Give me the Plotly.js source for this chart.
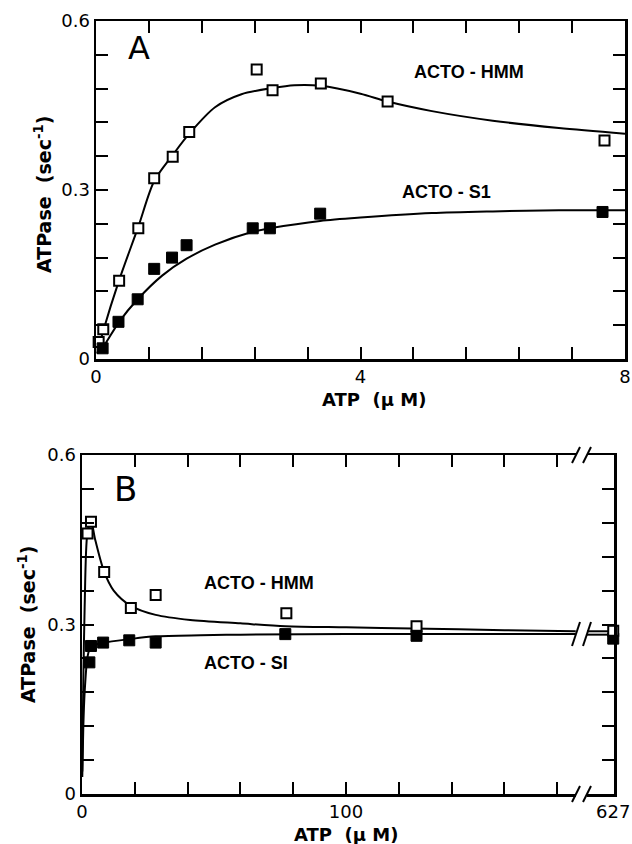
<!DOCTYPE html>
<html>
<head>
<meta charset="utf-8">
<script src="https://cdn.plot.ly/plotly-3.0.1.min.js"></script>
<style>html,body{margin:0;padding:0;background:#fff;}#chart{width:632px;height:844px;}</style>
</head>
<body>
<div id="chart"></div>
<script>
// ---------- Panel A data (ATP 0-8 µM) ----------
const hmmA_x = [0.04, 0.11, 0.35, 0.64, 0.88, 1.16, 1.41, 2.43, 2.67, 3.40, 4.41, 7.69];
const hmmA_y = [0.03, 0.053, 0.139, 0.232, 0.321, 0.359, 0.403, 0.514, 0.477, 0.489, 0.457, 0.388];
const s1A_x = [0.10, 0.34, 0.63, 0.88, 1.15, 1.37, 2.37, 2.63, 3.39, 7.66];
const s1A_y = [0.019, 0.066, 0.106, 0.160, 0.180, 0.202, 0.232, 0.232, 0.258, 0.261];
const hmmFitA_x = [0.02, 0.11, 0.35, 0.64, 0.88, 1.16, 1.41, 1.8, 2.2, 2.67, 3.0, 3.4, 4.0, 4.41, 5.08, 6.0, 7.0, 8.0];
const hmmFitA_y = [0.01, 0.05, 0.14, 0.235, 0.316, 0.362, 0.40, 0.447, 0.47, 0.481, 0.486, 0.485, 0.471, 0.457, 0.44, 0.423, 0.41, 0.40];
const s1FitA_x = [0.02, 0.1, 0.35, 0.63, 1.0, 1.37, 1.8, 2.37, 2.63, 3.39, 4.0, 5.08, 6, 7, 8];
const s1FitA_y = [0.01, 0.02, 0.066, 0.106, 0.148, 0.178, 0.203, 0.226, 0.232, 0.245, 0.251, 0.259, 0.262, 0.264, 0.264];

// ---------- Panel B data (ATP 0-627 µM, broken axis) ----------
const hmmB_x = [2.1, 3.4, 8.4, 18.5, 27.9, 77.4, 126.7];
const hmmB_y = [0.461, 0.482, 0.393, 0.329, 0.352, 0.32, 0.297];
const s1B_x = [2.8, 3.4, 8.0, 17.9, 27.9, 77, 126.7];
const s1B_y = [0.233, 0.262, 0.268, 0.272, 0.268, 0.283, 0.28];
const hmmB2_x = [627];
const hmmB2_y = [0.289];
const s1B2_x = [627];
const s1B2_y = [0.275];
const hmmFitB_x = [0.1, 0.5, 1, 2, 3.4, 5, 8.4, 12, 18.5, 27.9, 41, 60, 77, 100, 125, 160, 187];
const hmmFitB_y = [0.04, 0.2, 0.33, 0.46, 0.484, 0.45, 0.393, 0.36, 0.333, 0.317, 0.308, 0.302, 0.297, 0.295, 0.293, 0.29, 0.288];
const s1FitB_x = [0.1, 0.5, 1, 2, 2.8, 4, 8.4, 17.9, 27.9, 45, 60, 100, 187];
const s1FitB_y = [0.03, 0.12, 0.18, 0.24, 0.255, 0.262, 0.268, 0.274, 0.279, 0.281, 0.282, 0.283, 0.283];
const hmmFitB2_x = [610, 627.5];
const hmmFitB2_y = [0.288, 0.288];
const s1FitB2_x = [610, 627.5];
const s1FitB2_y = [0.282, 0.282];

// ---------- Tick values / labels ----------
const xTickValsA = [0, 4, 8];
const xTickTextA = ['0', '4', '8'];
const xMinorStepA = 0.8;
const yTickVals = [0, 0.3, 0.6];
const yTickText = ['0', '0.3', '0.6'];
const yMinorStep = 0.06;
const xTickValsB = [0, 100];
const xTickTextB = ['0', '100'];
const xMinorStepB = 20;
const xTickValsB2 = [627];
const xTickTextB2 = ['627'];

const W = 632, H = 844;
const px = v => v / W;
const py = v => 1 - v / H;

const tickFont = {family: 'DejaVu Sans', size: 18, color: '#000'};

function openSq(x, y, xa, ya) {
  return {x: x, y: y, xaxis: xa, yaxis: ya, type: 'scatter', mode: 'markers', cliponaxis: false,
    marker: {symbol: 'square', size: 10, color: '#fff', line: {color: '#000', width: 2}}, hoverinfo: 'skip'};
}
function fillSq(x, y, xa, ya) {
  return {x: x, y: y, xaxis: xa, yaxis: ya, type: 'scatter', mode: 'markers', cliponaxis: false,
    marker: {symbol: 'square', size: 11, color: '#000', line: {color: '#000', width: 1}}, hoverinfo: 'skip'};
}
function fit(x, y, xa, ya) {
  return {x: x, y: y, xaxis: xa, yaxis: ya, type: 'scatter', mode: 'lines', cliponaxis: true,
    line: {color: '#000', width: 2, shape: 'spline', smoothing: 0.8}, hoverinfo: 'skip'};
}

const data = [
  fit(hmmFitA_x, hmmFitA_y, 'x', 'y'),
  fit(s1FitA_x, s1FitA_y, 'x', 'y'),
  openSq(hmmA_x, hmmA_y, 'x', 'y'),
  fillSq(s1A_x, s1A_y, 'x', 'y'),
  fit(hmmFitB_x, hmmFitB_y, 'x3', 'y3'),
  fit(s1FitB_x, s1FitB_y, 'x3', 'y3'),
  fit(hmmFitB2_x, hmmFitB2_y, 'x4', 'y4'),
  fit(s1FitB2_x, s1FitB2_y, 'x4', 'y4'),
  openSq(hmmB_x, hmmB_y, 'x3', 'y3'),
  fillSq(s1B_x, s1B_y, 'x3', 'y3'),
  fillSq(s1B2_x, s1B2_y, 'x4', 'y4'),
  openSq(hmmB2_x, hmmB2_y, 'x4', 'y4')
];

const axBase = {showgrid: false, zeroline: false, showline: true, linecolor: '#000', linewidth: 2.5,
  ticks: 'inside', ticklen: 12, tickwidth: 2, tickcolor: '#000', tickfont: tickFont, fixedrange: true,
  ticklabelstandoff: 0};
const minorOf = step => ({dtick: step, tick0: 0, ticks: 'inside', ticklen: 12, tickwidth: 2, tickcolor: '#000', showgrid: false});

const layout = {
  width: W, height: H,
  margin: {l: 0, r: 0, t: 0, b: 0},
  paper_bgcolor: '#fff', plot_bgcolor: '#fff',
  showlegend: false,
  xaxis: Object.assign({}, axBase, {domain: [px(96), px(625)], range: [0, 8], anchor: 'y', mirror: 'ticks',
    tickmode: 'array', tickvals: xTickValsA, ticktext: xTickTextA, minor: minorOf(xMinorStepA)}),
  yaxis: Object.assign({}, axBase, {domain: [py(359), py(21)], range: [0, 0.6], anchor: 'x', mirror: 'ticks',
    tickmode: 'array', tickvals: yTickVals, ticktext: yTickText, minor: minorOf(yMinorStep)}),
  xaxis3: Object.assign({}, axBase, {domain: [px(82), px(576)], range: [0, 187.1], anchor: 'y3', mirror: 'ticks',
    tickmode: 'array', tickvals: xTickValsB, ticktext: xTickTextB, minor: minorOf(xMinorStepB)}),
  yaxis3: Object.assign({}, axBase, {domain: [py(794), py(455)], range: [0, 0.6], anchor: 'x3', mirror: false,
    tickmode: 'array', tickvals: yTickVals, ticktext: yTickText, minor: minorOf(yMinorStep)}),
  xaxis4: Object.assign({}, axBase, {domain: [px(587), px(614)], range: [610, 627.5], anchor: 'y4', mirror: true,
    ticks: '', tickmode: 'array', tickvals: xTickValsB2, ticktext: xTickTextB2}),
  yaxis4: Object.assign({}, axBase, {domain: [py(794), py(455)], range: [0, 0.6], anchor: 'x4', side: 'right', mirror: false,
    tickmode: 'array', tickvals: yTickVals, showticklabels: false, minor: minorOf(yMinorStep)}),
  annotations: [
    {text: 'A', xref: 'paper', yref: 'paper', x: px(139), y: py(48), xanchor: 'center', yanchor: 'middle', showarrow: false,
      font: {family: 'DejaVu Sans', size: 32, color: '#000'}},
    {text: 'B', xref: 'paper', yref: 'paper', x: px(125), y: py(489), xanchor: 'center', yanchor: 'middle', showarrow: false,
      font: {family: 'DejaVu Sans', size: 34, color: '#000'}},
    {text: 'ACTO - HMM', xref: 'paper', yref: 'paper', x: px(412), y: py(72), xanchor: 'left', yanchor: 'middle', showarrow: false,
      font: {family: 'Liberation Sans', size: 18, color: '#000', weight: 'bold'}},
    {text: 'ACTO - S1', xref: 'paper', yref: 'paper', x: px(400), y: py(192), xanchor: 'left', yanchor: 'middle', showarrow: false,
      font: {family: 'Liberation Sans', size: 18, color: '#000', weight: 'bold'}},
    {text: 'ACTO - HMM', xref: 'paper', yref: 'paper', x: px(202), y: py(583), xanchor: 'left', yanchor: 'middle', showarrow: false,
      font: {family: 'Liberation Sans', size: 18, color: '#000', weight: 'bold'}},
    {text: 'ACTO - SI', xref: 'paper', yref: 'paper', x: px(202), y: py(663), xanchor: 'left', yanchor: 'middle', showarrow: false,
      font: {family: 'Liberation Sans', size: 18, color: '#000', weight: 'bold'}},
    {text: 'ATPase  (sec<sup>-1</sup>)', xref: 'paper', yref: 'paper', x: px(43), y: py(195), textangle: -90,
      xanchor: 'center', yanchor: 'middle', showarrow: false, font: {family: 'DejaVu Sans', size: 19, color: '#000', weight: 'bold'}},
    {text: 'ATPase  (sec<sup>-1</sup>)', xref: 'paper', yref: 'paper', x: px(27), y: py(625), textangle: -90,
      xanchor: 'center', yanchor: 'middle', showarrow: false, font: {family: 'DejaVu Sans', size: 19, color: '#000', weight: 'bold'}},
    {text: 'ATP  (\u03bc M)', xref: 'paper', yref: 'paper', x: px(374), y: py(399), xanchor: 'center', yanchor: 'middle', showarrow: false,
      font: {family: 'DejaVu Sans', size: 18, color: '#000', weight: 'bold'}},
    {text: 'ATP  (\u03bc M)', xref: 'paper', yref: 'paper', x: px(346), y: py(834), xanchor: 'center', yanchor: 'middle', showarrow: false,
      font: {family: 'DejaVu Sans', size: 18, color: '#000', weight: 'bold'}}
  ],
  shapes: []
};

// axis-break slashes (decoration)
function slash(cx, cy, half) {
  return {type: 'line', xref: 'paper', yref: 'paper', x0: px(cx - 4), y0: py(cy + half), x1: px(cx + 4), y1: py(cy - half),
    line: {color: '#000', width: 2}};
}
[[576, 455], [587, 455], [576, 794], [587, 794]].forEach(p => layout.shapes.push(slash(p[0], p[1], 8)));
[[576, 634], [587, 634]].forEach(p => layout.shapes.push(slash(p[0], p[1], 12)));

Plotly.newPlot('chart', data, layout, {staticPlot: true, displayModeBar: false});
</script>
</body>
</html>
